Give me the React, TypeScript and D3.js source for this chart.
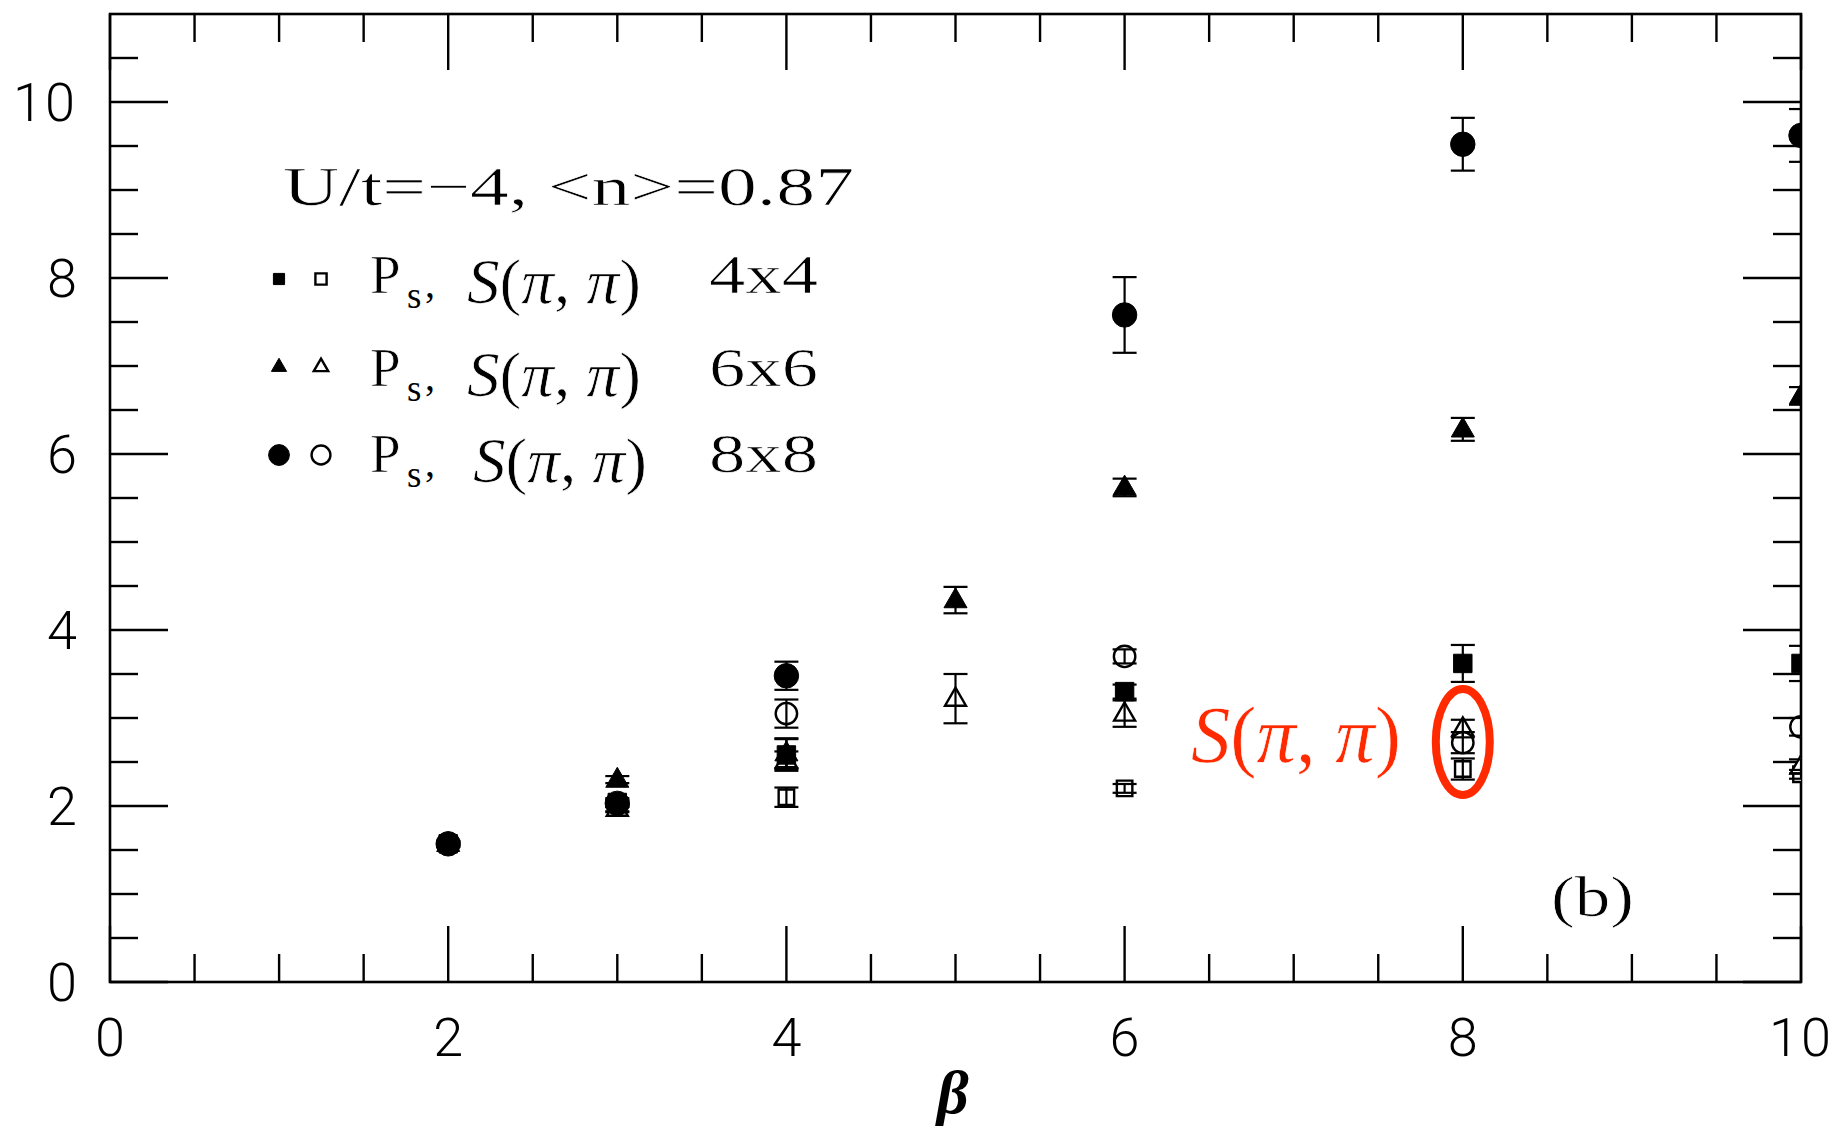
import React from "react";
import * as d3 from "d3";

const W = 1840;
const H = 1130;

// axis ticks / labels
const xMajorTicks = [0, 2, 4, 6, 8, 10];
const xTickLabels = ["0", "2", "4", "6", "8", "10"];
const yMajorTicks = [0, 2, 4, 6, 8, 10];
const yTickLabels = ["0", "2", "4", "6", "8", "10"];
const xMinorTicks = [0.5, 1, 1.5, 2.5, 3, 3.5, 4.5, 5, 5.5, 6.5, 7, 7.5, 8.5, 9, 9.5];
const yMinorTicks = [0.5, 1, 1.5, 2.5, 3, 3.5, 4.5, 5, 5.5, 6.5, 7, 7.5, 8.5, 9, 9.5, 10.5];

// 4x4
const beta4P = [2, 3, 4, 6, 8, 10];
const val4P = [1.57, 2.04, 2.58, 3.3, 3.62, 3.62];
const err4P = [0.03, 0.05, 0.18, 0.08, 0.21, 0.2];
const beta4S = [3, 4, 6, 8, 10];
const val4S = [1.98, 2.1, 2.2, 2.42, 2.36];
const err4S = [0.04, 0.11, 0.05, 0.12, 0.05];

// 6x6
const beta6P = [2, 3, 4, 5, 6, 8, 10];
const val6P = [1.57, 2.3, 2.6, 4.34, 5.62, 6.28, 6.66];
const err6P = [0.03, 0.04, 0.17, 0.15, 0.1, 0.13, 0.1];
const beta6S = [3, 4, 5, 6, 8, 10];
const val6S = [1.97, 2.52, 3.22, 3.05, 2.88, 2.45];
const err6S = [0.04, 0.1, 0.28, 0.15, 0.1, 0.08];

// 8x8
const beta8P = [2, 3, 4, 6, 8, 10];
const val8P = [1.57, 2.03, 3.48, 7.58, 9.52, 9.62];
const err8P = [0.03, 0.04, 0.16, 0.43, 0.3, 0.3];
const beta8S = [4, 6, 8, 10];
const val8S = [3.05, 3.7, 2.72, 2.9];
const err8S = [0.16, 0.08, 0.12, 0.1];

const legendSizes = ["4x4", "6x6", "8x8"];
const legendShapes = ["square", "triangle", "circle"];

const left = 110, right = 1801, top = 14, bottom = 982;
const x = d3.scaleLinear().domain([0, 10]).range([left, right]);
const y = d3.scaleLinear().domain([0, 11]).range([bottom, top]);

const symType: Record<string, d3.SymbolType> = {
  square: d3.symbolSquare,
  triangle: d3.symbolTriangle,
  circle: d3.symbolCircle,
};

const plotSizes: Record<string, number> = { square: 340, triangle: 230, circle: 470 };
const openSizes: Record<string, number> = { square: 240, triangle: 190, circle: 360 };

type Series = { shape: string; filled: boolean; betas: number[]; vals: number[]; errs: number[] };
const series: Series[] = [
  { shape: "square", filled: false, betas: beta4S, vals: val4S, errs: err4S },
  { shape: "triangle", filled: false, betas: beta6S, vals: val6S, errs: err6S },
  { shape: "circle", filled: false, betas: beta8S, vals: val8S, errs: err8S },
  { shape: "square", filled: true, betas: beta4P, vals: val4P, errs: err4P },
  { shape: "triangle", filled: true, betas: beta6P, vals: val6P, errs: err6P },
  { shape: "circle", filled: true, betas: beta8P, vals: val8P, errs: err8P },
];

const SANS = "Roboto, 'Liberation Sans', sans-serif";
const SERIF = "'Liberation Serif', 'DejaVu Serif', serif";
const RED = "#ff2a00";

// thin the serif glyphs a little (Computer Modern is lighter than Times)
const thin = { stroke: "#fff", strokeWidth: 0.7 };

function Marker({ shape, filled, cx, cy, size }: { shape: string; filled: boolean; cx: number; cy: number; size: number }) {
  const p = d3.symbol().type(symType[shape]).size(size)() as string;
  const dy = shape === "triangle" ? 1 : 0;
  return (
    <path
      d={p}
      transform={`translate(${cx},${cy + dy})`}
      fill={filled ? "#000" : "#fff"}
      stroke="#000"
      strokeWidth={filled ? 1 : 2.4}
    />
  );
}

export default function App() {
  const rowBase = [293, 386, 472];
  const rowMark = [279, 366, 455];
  return (
    <svg width={W} height={H} style={{ position: "absolute", left: 0, top: 0, background: "#fff" }}>
      <rect x={0} y={0} width={W} height={H} fill="#fff" />
      <defs>
        <clipPath id="plotclip">
          <rect x={left} y={top} width={right - left} height={bottom - top} />
        </clipPath>
      </defs>

      {/* frame */}
      <rect x={left} y={top} width={right - left} height={bottom - top} fill="none" stroke="#000" strokeWidth={2.6} />

      {/* ticks */}
      <g stroke="#000" strokeWidth={2.4}>
        {xMajorTicks.map((t) => (
          <g key={"xM" + t}>
            <line x1={x(t)} x2={x(t)} y1={bottom} y2={bottom - 56} />
            <line x1={x(t)} x2={x(t)} y1={top} y2={top + 56} />
          </g>
        ))}
        {xMinorTicks.map((t) => (
          <g key={"xm" + t}>
            <line x1={x(t)} x2={x(t)} y1={bottom} y2={bottom - 28} />
            <line x1={x(t)} x2={x(t)} y1={top} y2={top + 28} />
          </g>
        ))}
        {yMajorTicks.map((t) => (
          <g key={"yM" + t}>
            <line x1={left} x2={left + 58} y1={y(t)} y2={y(t)} />
            <line x1={right} x2={right - 58} y1={y(t)} y2={y(t)} />
          </g>
        ))}
        {yMinorTicks.map((t) => (
          <g key={"ym" + t}>
            <line x1={left} x2={left + 28} y1={y(t)} y2={y(t)} />
            <line x1={right} x2={right - 28} y1={y(t)} y2={y(t)} />
          </g>
        ))}
      </g>

      {/* tick labels */}
      <g fontFamily={SANS} fontWeight={300} fontSize={54} fill="#000">
        {xMajorTicks.map((t, i) => (
          <text key={"xl" + t} x={x(t)} y={1056} textAnchor="middle" letterSpacing={xTickLabels[i].length > 1 ? 2 : 0}>
            {xTickLabels[i]}
          </text>
        ))}
        {yMajorTicks.map((t, i) => (
          <text key={"yl" + t} x={77} y={y(t) + 19} textAnchor="end" letterSpacing={yTickLabels[i].length > 1 ? 2 : 0}>
            {yTickLabels[i]}
          </text>
        ))}
      </g>

      {/* x axis title */}
      <text x={953} y={1113} textAnchor="middle" fontFamily={SERIF} fontStyle="italic" fontWeight="bold" fontSize={62}>
        β
      </text>

      {/* data */}
      <g clipPath="url(#plotclip)">
        {series.map((s, si) =>
          s.betas.map((b, i) => (
            <Marker
              key={`m${si}-${i}`}
              shape={s.shape}
              filled={s.filled}
              cx={x(b)}
              cy={y(s.vals[i])}
              size={s.filled ? plotSizes[s.shape] : openSizes[s.shape]}
            />
          ))
        )}
        <g stroke="#000" strokeWidth={2.2}>
          {series.map((s, si) =>
            s.betas.map((b, i) => {
              const cx = x(b);
              const y1 = y(s.vals[i] + s.errs[i]);
              const y2 = y(s.vals[i] - s.errs[i]);
              return (
                <g key={`e${si}-${i}`}>
                  <line x1={cx} x2={cx} y1={y1} y2={y2} />
                  <line x1={cx - 12} x2={cx + 12} y1={y1} y2={y1} />
                  <line x1={cx - 12} x2={cx + 12} y1={y2} y2={y2} />
                </g>
              );
            })
          )}
        </g>
      </g>

      {/* legend */}
      <text x={283} y={205} fontFamily={SERIF} fontSize={55} textLength={571} lengthAdjust="spacingAndGlyphs" {...thin}>
        U/t=−4,  &lt;n&gt;=0.87
      </text>
      {legendShapes.map((sh, i) => (
        <g key={"lg" + i}>
          <Marker shape={sh} filled={true} cx={279} cy={rowMark[i]} size={sh === "circle" ? 340 : sh === "square" ? 125 : 100} />
          <Marker shape={sh} filled={false} cx={321} cy={rowMark[i]} size={sh === "circle" ? 280 : sh === "square" ? 125 : 90} />
          <text x={370} y={rowBase[i]} fontFamily={SERIF} fontSize={55} {...thin}>
            P
          </text>
          <text x={407} y={rowBase[i] + 15} fontFamily={SERIF} fontSize={37}>
            s
          </text>
          <text x={425} y={rowBase[i] + 4} fontFamily={SERIF} fontSize={40}>
            ,
          </text>
          <text
            x={i === 2 ? 473 : 467}
            y={rowBase[i] + 10}
            fontFamily={SERIF}
            fontSize={63}
            textLength={174}
            lengthAdjust="spacingAndGlyphs"
            {...thin}
          >
            <tspan fontStyle="italic">S</tspan>(<tspan fontStyle="italic">π</tspan>, <tspan fontStyle="italic">π</tspan>)
          </text>
          <text x={709} y={rowBase[i]} fontFamily={SERIF} fontSize={54} textLength={109} lengthAdjust="spacingAndGlyphs" {...thin}>
            {legendSizes[i]}
          </text>
        </g>
      ))}

      {/* panel label */}
      <text x={1551} y={916} fontFamily={SERIF} fontSize={57} textLength={83} lengthAdjust="spacingAndGlyphs" {...thin}>
        (b)
      </text>

      {/* red annotation */}
      <text x={1191} y={762} fontFamily={SERIF} fontSize={80} fill={RED} textLength={210} lengthAdjust="spacingAndGlyphs" stroke="#fff" strokeWidth={0.6}>
        <tspan fontStyle="italic">S</tspan>(<tspan fontStyle="italic">π</tspan>, <tspan fontStyle="italic">π</tspan>)
      </text>
      <ellipse cx={x(8)} cy={742} rx={27} ry={53} fill="none" stroke={RED} strokeWidth={8} />
    </svg>
  );
}
